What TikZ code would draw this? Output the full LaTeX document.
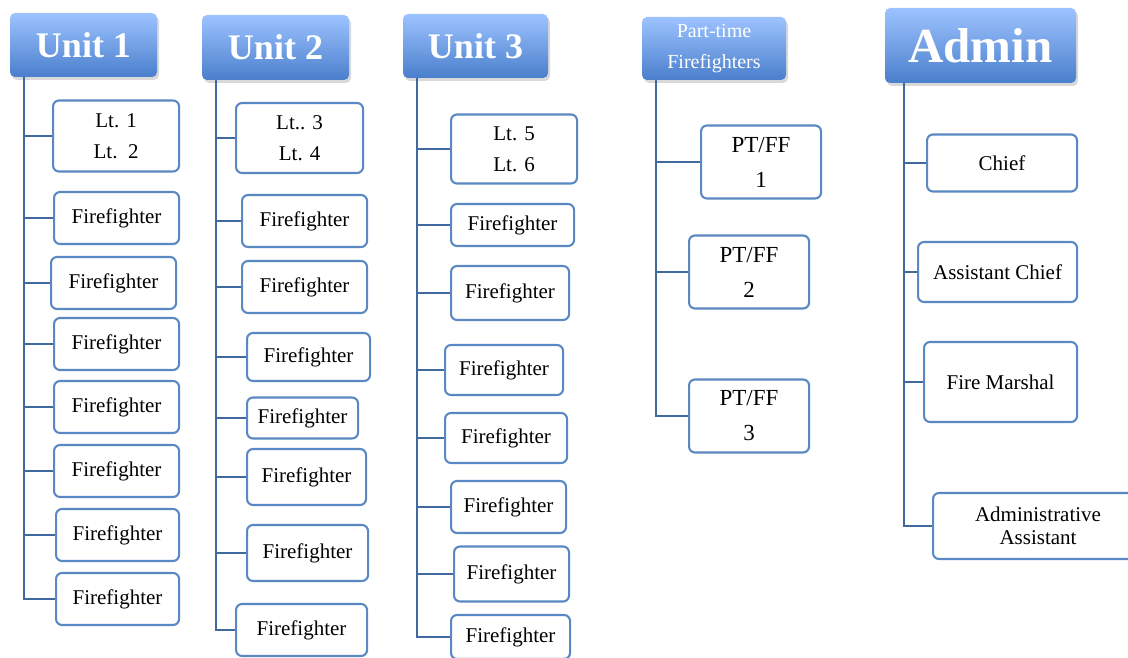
\documentclass[tikz,border=0pt]{standalone}
\usepackage{fontspec}
\setmainfont{Liberation Serif}
\usetikzlibrary{shadows}
\definecolor{headtop}{HTML}{9DC3FF}
\definecolor{headbot}{HTML}{4A7FCC}
\definecolor{boxline}{HTML}{5A88C2}
\definecolor{trunkline}{HTML}{41699E}
\tikzset{
  head/.style={rounded corners=5pt, top color=headtop, bottom color=headbot,
    text=white, inner sep=0pt, align=center,
    drop shadow={opacity=0.3, shadow xshift=2pt, shadow yshift=-3pt}},
  member/.style={draw=boxline, line width=2.1pt, rounded corners=6pt, fill=white,
    inner sep=0pt, align=center, anchor=west, font=\fontsize{21}{31}\selectfont},
  link/.style={draw=trunkline, line width=2.6pt}
}
\begin{document}
\begin{tikzpicture}[x=1pt, y=-1pt]
\useasboundingbox (0,0) rectangle (1128,658);
\clip (0,0) rectangle (1128,658);
% Headers
\node[head, minimum width=147, minimum height=64, font=\fontsize{36}{36}\selectfont\bfseries] (unit1) at (83.5,45) {Unit 1};
\node[head, minimum width=147, minimum height=65, font=\fontsize{36}{36}\selectfont\bfseries] (unit2) at (275.5,47.5) {Unit 2};
\node[head, minimum width=145, minimum height=64, font=\fontsize{36}{36}\selectfont\bfseries] (unit3) at (475.5,46) {Unit 3};
\node[head, minimum width=144, minimum height=63, font=\fontsize{20}{31}\selectfont] (parttime) at (714,48.5) {Part-time\\Firefighters};
\node[head, minimum width=191, minimum height=75, font=\fontsize{49}{49}\selectfont\bfseries] (admin) at (980.5,45.5) {Admin};
% Trunk tops
\coordinate (t1) at (24,77);
\coordinate (t2) at (216,80);
\coordinate (t3) at (417,78);
\coordinate (t4) at (656,80);
\coordinate (t5) at (904,83);
% Unit 1
\node[member, minimum width=126, minimum height=71] (u1a) at (52,136) {Lt. 1\\Lt.~~2};
\draw[link] (t1) |- (u1a.west);
\foreach \i/\x/\y/\w in {b/53/218/125, c/50/283/125, d/53/344/125, e/53/407/125,
                          f/53/471/125, g/55/535/123, h/55/599/123}{
  \node[member, minimum width=\w, minimum height=52] (u1\i) at (\x,\y) {Firefighter};
  \draw[link] (t1) |- (u1\i.west);
}
% Unit 2
\node[member, minimum width=127, minimum height=70] (u2a) at (235,138) {Lt.. 3\\Lt. 4};
\draw[link] (t2) |- (u2a.west);
\foreach \i/\x/\y/\w/\h in {b/241/221/125/52, c/241/287/125/52, d/246/357/123/48, e/246/418/111/41,
                             f/246/477/119/56, g/246/553/121/56, h/235/630/131/52}{
  \node[member, minimum width=\w, minimum height=\h] (u2\i) at (\x,\y) {Firefighter};
  \draw[link] (t2) |- (u2\i.west);
}
% Unit 3
\node[member, minimum width=126, minimum height=69] (u3a) at (450,149) {Lt. 5\\Lt. 6};
\draw[link] (t3) |- (u3a.west);
\foreach \i/\x/\y/\w/\h in {b/450/225/123/42, c/450/293/118/54, d/444/370/118/50, e/444/438/122/50,
                             f/450/507/115/52, g/453/574/115/55, h/450/637/119/44}{
  \node[member, minimum width=\w, minimum height=\h] (u3\i) at (\x,\y) {Firefighter};
  \draw[link] (t3) |- (u3\i.west);
}
% Part-time
\foreach \i/\x/\y in {1/700/162, 2/688/272, 3/688/416}{
  \node[member, minimum width=120, minimum height=73, font=\fontsize{23}{35}\selectfont] (pt\i) at (\x,\y) {PT/FF\\\i};
  \draw[link] (t4) |- (pt\i.west);
}
% Admin
\node[member, minimum width=150, minimum height=57] (chief) at (926,163) {Chief};
\node[member, minimum width=159, minimum height=60] (asstchief) at (917,272) {Assistant Chief};
\node[member, minimum width=153, minimum height=80] (marshal) at (923,382) {Fire Marshal};
\node[member, minimum width=210, minimum height=66, font=\fontsize{21}{23}\selectfont] (adminasst) at (932,526) {Administrative\\Assistant};
\draw[link] (t5) |- (chief.west);
\draw[link] (t5) |- (asstchief.west);
\draw[link] (t5) |- (marshal.west);
\draw[link] (t5) |- (adminasst.west);
\end{tikzpicture}
\end{document}
